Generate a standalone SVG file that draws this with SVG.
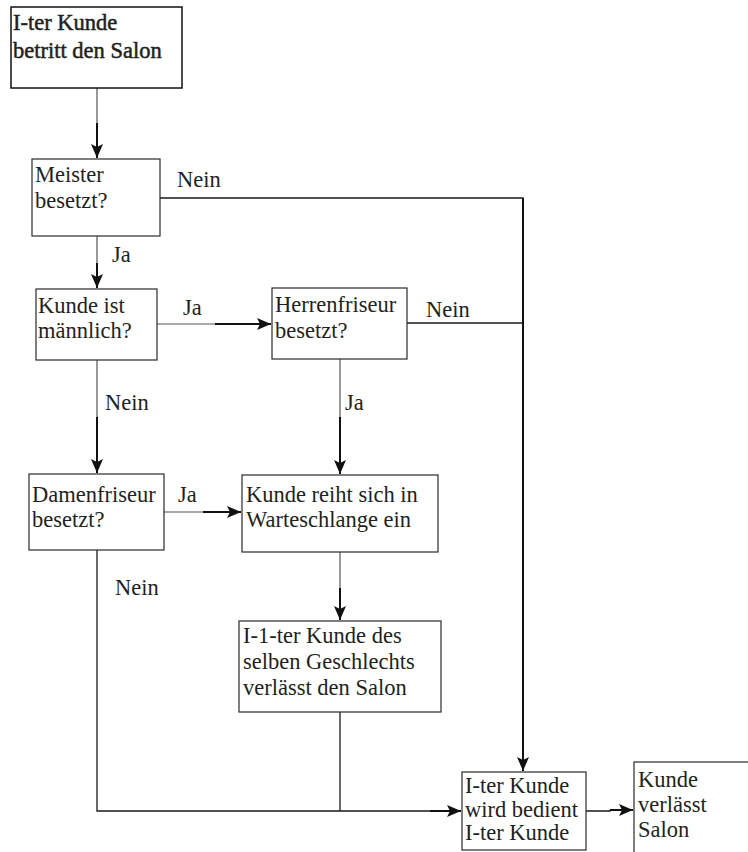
<svg xmlns="http://www.w3.org/2000/svg" width="748" height="852" viewBox="0 0 748 852">
<defs>
<style>
.box{fill:#fff;stroke:#2a2a2a;stroke-width:1.2}
text{font-family:'Liberation Serif','Times New Roman','DejaVu Serif',serif;font-size:22.5px;fill:#231f20}
.tb{stroke:#231f20;stroke-width:0.5}
.thin{fill:none;stroke:#555;stroke-width:1.2}
.dark{fill:none;stroke:#1a1a1a;stroke-width:1.3}
.thick{fill:none;stroke:#111;stroke-width:2;marker-end:url(#ah)}
</style>
<marker id="ah" viewBox="0 0 14 12" refX="14" refY="6" markerWidth="14" markerHeight="12" markerUnits="userSpaceOnUse" orient="auto">
<path d="M0,0 L14,6 L0,12 L3,6 z" fill="#111"/>
</marker>
</defs>
<rect width="748" height="852" fill="#fff"/>

<g id="connectors">
<line class="thin" x1="97" y1="88" x2="97" y2="123"/>
<line class="thick" x1="97" y1="123" x2="97" y2="158"/>
<line class="thin" x1="97" y1="236" x2="97" y2="263"/>
<line class="thick" x1="97" y1="263" x2="97" y2="288"/>
<polyline class="dark" points="160,198 523,198 523,740"/>
<line class="thick" x1="523" y1="740" x2="523" y2="771"/>
<line class="thin" x1="157" y1="324" x2="215" y2="324"/>
<line class="thick" x1="215" y1="324" x2="271" y2="324"/>
<line class="dark" x1="407" y1="323" x2="523" y2="323"/>
<line x1="523" y1="198" x2="523" y2="740" stroke="#111" stroke-width="2"/>
<line class="thin" x1="97" y1="360" x2="97" y2="417"/>
<line class="thick" x1="97" y1="417" x2="97" y2="473"/>
<line class="thin" x1="340" y1="359" x2="340" y2="417"/>
<line class="thick" x1="340" y1="417" x2="340" y2="474"/>
<line class="thin" x1="164" y1="512" x2="203" y2="512"/>
<line class="thick" x1="203" y1="512" x2="241" y2="512"/>
<line class="thin" x1="340" y1="552" x2="340" y2="588"/>
<line class="thick" x1="340" y1="588" x2="340" y2="620"/>
<polyline class="dark" points="97,550 97,811 430,811"/>
<line class="thick" x1="430" y1="811" x2="461" y2="811"/>
<line class="dark" x1="340" y1="712" x2="340" y2="811"/>
<polyline class="dark" points="586,811 610,811 610,810"/>
<line class="thick" x1="610" y1="810" x2="633" y2="810"/>
</g>

<g id="start">
<rect x="11" y="7" width="171" height="81" fill="#fff" stroke="#111" stroke-width="1.5"/>
<text class="tb" x="13" y="30" font-family="Liberation Serif, serif">I-ter Kunde</text>
<text class="tb" x="13" y="58" font-family="Liberation Serif, serif">betritt den Salon</text>
</g>

<g id="meister">
<rect class="box" x="32" y="159" width="128" height="77"/>
<text x="35" y="182" font-family="Liberation Serif, serif">Meister</text>
<text x="35" y="208" font-family="Liberation Serif, serif">besetzt?</text>
</g>

<g id="maennlich">
<rect class="box" x="36" y="289" width="121" height="71"/>
<text x="38" y="313" font-family="Liberation Serif, serif">Kunde ist</text>
<text x="38" y="338" font-family="Liberation Serif, serif">männlich?</text>
</g>

<g id="herrenfriseur">
<rect class="box" x="272" y="288" width="135" height="71"/>
<text x="275" y="312" font-family="Liberation Serif, serif">Herrenfriseur</text>
<text x="275" y="338" font-family="Liberation Serif, serif">besetzt?</text>
</g>

<g id="damenfriseur">
<rect class="box" x="29" y="474" width="135" height="76"/>
<text x="32" y="502" font-family="Liberation Serif, serif">Damenfriseur</text>
<text x="32" y="527" font-family="Liberation Serif, serif">besetzt?</text>
</g>

<g id="warteschlange">
<rect class="box" x="242" y="475" width="196" height="77"/>
<text x="246" y="502" font-family="Liberation Serif, serif">Kunde reiht sich in</text>
<text x="246" y="527" font-family="Liberation Serif, serif">Warteschlange ein</text>
</g>

<g id="verlaesst-vorher">
<rect class="box" x="239" y="621" width="202" height="91"/>
<text x="243" y="643" font-family="Liberation Serif, serif">I-1-ter Kunde des</text>
<text x="243" y="669" font-family="Liberation Serif, serif">selben Geschlechts</text>
<text x="243" y="695" font-family="Liberation Serif, serif">verlässt den Salon</text>
</g>

<g id="bedient">
<rect class="box" x="462" y="772" width="124" height="78"/>
<text x="465" y="793" font-family="Liberation Serif, serif">I-ter Kunde</text>
<text x="465" y="817" font-family="Liberation Serif, serif">wird bedient</text>
<text x="465" y="840" font-family="Liberation Serif, serif">I-ter Kunde</text>
</g>

<g id="verlaesst">
<rect class="box" x="634" y="762" width="140" height="110"/>
<text x="638" y="787" font-family="Liberation Serif, serif">Kunde</text>
<text x="638" y="812" font-family="Liberation Serif, serif">verlässt</text>
<text x="638" y="837" font-family="Liberation Serif, serif">Salon</text>
</g>

<g id="labels">
<text x="177" y="187" font-family="Liberation Serif, serif">Nein</text>
<text x="112" y="262" font-family="Liberation Serif, serif">Ja</text>
<text x="183" y="315" font-family="Liberation Serif, serif">Ja</text>
<text x="426" y="317" font-family="Liberation Serif, serif">Nein</text>
<text x="105" y="410" font-family="Liberation Serif, serif">Nein</text>
<text x="345" y="410" font-family="Liberation Serif, serif">Ja</text>
<text x="178" y="502" font-family="Liberation Serif, serif">Ja</text>
<text x="115" y="595" font-family="Liberation Serif, serif">Nein</text>
</g>
</svg>
